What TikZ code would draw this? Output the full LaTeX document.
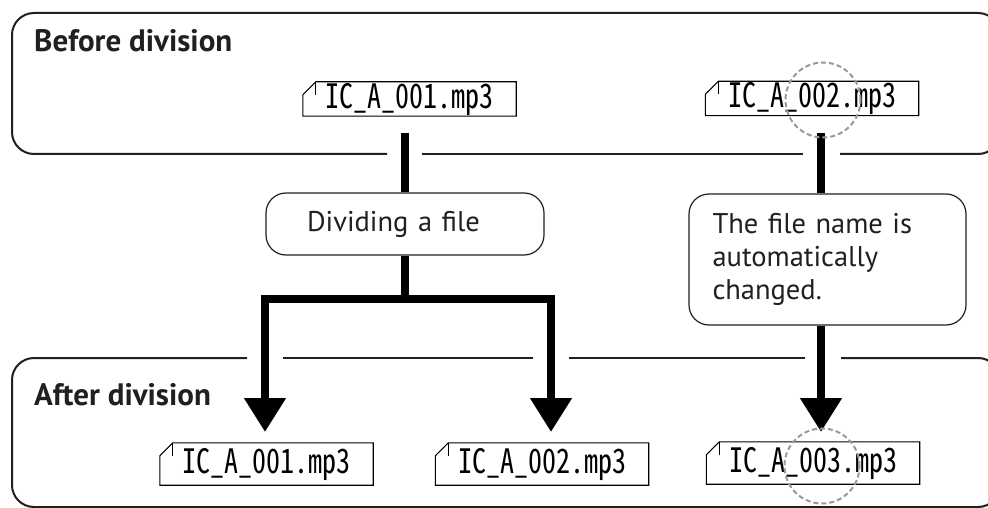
\documentclass[tikz,border=0pt]{standalone}
\usepackage{fontspec}
\usepackage{graphicx}
\setmainfont{PT Sans}
\newfontfamily\fnfont[RawFeature=+hwid]{Noto Sans CJK JP}
\usetikzlibrary{arrows.meta}
\definecolor{ink}{HTML}{231F20}
\newcommand{\fname}[1]{\scalebox{1}[1.2]{\fnfont\fontsize{28}{28}\selectfont #1}}
\newcommand{\dogear}[1]{%
  \draw[line width=1.1pt] ([yshift=-13pt]#1.north west) -- ([xshift=13pt]#1.north west) -- (#1.north east) -- (#1.south east) -- (#1.south west) -- cycle;
  \draw[line width=1.1pt] ([xshift=13pt]#1.north west) -- ([xshift=13pt,yshift=-13pt]#1.north west);}
\tikzset{
  frame/.style={line width=2pt, ink, rounded corners=22pt},
  filebox/.style={minimum width=213pt, minimum height=#1, inner sep=0pt, anchor=center, text=black},
  filebox/.default=34pt,
  roundbox/.style={draw=ink, line width=1.2pt, rounded corners=20pt, fill=white, text=ink, inner xsep=0pt, inner ysep=0pt, font=\fontsize{28.5}{33}\selectfont},
  fat/.style={line width=8pt, line join=miter, black},
  fatarrow/.style={fat, -{Triangle[length=34pt, width=40pt]}},
  hl/.style={draw=gray!80, line width=2pt, dash pattern=on 5pt off 3pt, circle, minimum size=75pt, inner sep=0pt},
  title/.style={anchor=base west, inner sep=0pt, text=ink, font=\fontsize{31}{31}\selectfont\bfseries}
}
\begin{document}
\begin{tikzpicture}[x=1pt,y=-1pt]
\useasboundingbox (0,0) rectangle (988,508);
\clip (0,0) rectangle (988,508);
\fill[white] (0,0) rectangle (988,508);

% frames
\draw[frame] (387,154) -- (12,154) -- (12,13) -- (1000,13) -- (1000,154) -- (840,154);
\draw[frame] (803,154) -- (422,154);
\draw[frame] (247,358) -- (12,358) -- (12,507) -- (1000,507) -- (1000,358) -- (841,358);
\draw[frame] (805,358) -- (569,358);
\draw[frame] (533,358) -- (283,358);

\node[title] (before) at (34,52) {Before division};
\node[title] (after) at (34,405) {After division};

% file names
\node[filebox] (t1) at (409.5,99) {\fname{IC\_A\_001.mp3}};
\node[filebox] (t2) at (812,98.5) {\fname{IC\_A\_002.mp3}};
\node[filebox=42pt] (b1) at (266.5,464) {\fname{IC\_A\_001.mp3}};
\node[filebox=42pt] (b2) at (542,464) {\fname{IC\_A\_002.mp3}};
\node[filebox=42pt] (b3) at (813,463) {\fname{IC\_A\_003.mp3}};
\dogear{t1}\dogear{t2}\dogear{b1}\dogear{b2}\dogear{b3}

% process boxes
\node[roundbox, minimum width=278pt, minimum height=62pt, text width=196pt, align=left] (div) at (405,224) {Dividing a file};
\node[roundbox, minimum width=277pt, minimum height=131pt, text width=230pt, align=left] (chg) at (827.5,259.5) {The file name is\\automatically\\changed.};

% connectors
\coordinate (s1) at (405,133);
\coordinate (s2) at (821,133);
\coordinate (j1) at (405,299);
\coordinate (tipL) at (265,432);
\coordinate (tipM) at (551,432);
\coordinate (tipR) at (821,432);
\draw[fat] (s1) -- (div.north);
\draw[fatarrow] (div.south) -- (j1) -| (tipL);
\draw[fatarrow] (div.south) -- (j1) -| (tipM);
\draw[fat] (s2) -- (s2 |- chg.north);
\draw[fatarrow] (s2 |- chg.south) -- (tipR);

% highlight circles
\node[hl] (h1) at (823,100) {};
\node[hl] (h2) at (822,466) {};
\end{tikzpicture}
\end{document}
